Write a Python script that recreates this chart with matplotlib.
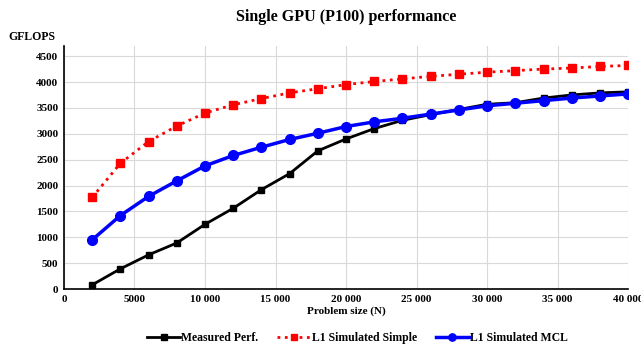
import matplotlib.pyplot as plt

problem_size = [2000, 4000, 6000, 8000, 10000, 12000, 14000, 16000, 18000, 20000,
                22000, 24000, 26000, 28000, 30000, 32000, 34000, 36000, 38000, 40000]
measured = [80, 390, 660, 890, 1250, 1560, 1920, 2230, 2670, 2900,
            3100, 3260, 3370, 3470, 3570, 3600, 3690, 3750, 3790, 3810]
l1_simple = [1770, 2430, 2850, 3150, 3400, 3560, 3680, 3790, 3870, 3950,
             4010, 4060, 4110, 4150, 4190, 4220, 4250, 4270, 4300, 4320]
l1_mcl = [950, 1420, 1790, 2090, 2380, 2580, 2740, 2890, 3010, 3140,
          3230, 3300, 3380, 3460, 3540, 3590, 3640, 3690, 3730, 3770]

xticks = [0, 5000, 10000, 15000, 20000, 25000, 30000, 35000, 40000]
xtick_labels = ['0', '5000', '10 000', '15 000', '20 000', '25 000', '30 000', '35 000', '40 000']
yticks = list(range(0, 5000, 500))

plt.rcParams['font.family'] = ['Liberation Serif', 'DejaVu Serif']
plt.rcParams['font.weight'] = 'bold'

fig = plt.figure(figsize=(6.41, 3.45), dpi=100)
ax = fig.add_axes([0.0998, 0.1623, 0.8802, 0.705])

ax.plot(problem_size, measured, color='black', lw=2, marker='s', ms=5,
        label='Measured Perf.', zorder=3)
ax.plot(problem_size, l1_simple, color='red', lw=2, ls=':', marker='s', ms=5.5,
        label='L1 Simulated Simple', zorder=3)
ax.plot(problem_size, l1_mcl, color='blue', lw=2.5, marker='o', ms=7,
        label='L1 Simulated MCL', zorder=4)

ax.set_xlim(0, 40000)
ax.set_ylim(0, 4700)
ax.set_xticks(xticks)
ax.set_xticklabels(xtick_labels)
ax.set_yticks(yticks)
ax.tick_params(labelsize=8, length=0, pad=4)
for lab in ax.get_xticklabels() + ax.get_yticklabels():
    lab.set_fontweight('bold')
ax.grid(True, color='#d9d9d9', lw=0.8)
ax.set_axisbelow(True)
for s in ['top', 'right']:
    ax.spines[s].set_visible(False)
ax.spines['left'].set_linewidth(1.2)
ax.spines['bottom'].set_linewidth(1.2)

ax.set_xlabel('Problem size (N)', fontsize=8, fontweight='bold', labelpad=2)
fig.text(0.013, 0.893, 'GFLOPS', fontsize=8.5, fontweight='bold', va='center')
fig.suptitle('Single GPU (P100) performance', fontsize=11.5, fontweight='bold',
             x=0.54, y=0.975)

ax.legend(loc='center', bbox_to_anchor=(0.52, -0.2), ncol=3, frameon=False,
          prop={'size': 8.5, 'weight': 'bold'}, handlelength=2.8, columnspacing=1.6,
          handletextpad=0.1, markerscale=0.75)

fig.savefig('out.png', dpi=100)
